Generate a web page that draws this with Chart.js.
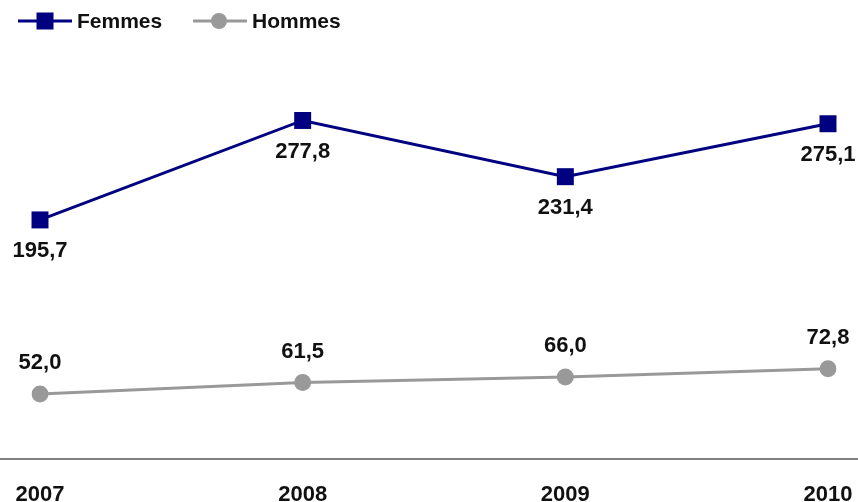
<!DOCTYPE html>
<html>
<head>
<meta charset="utf-8">
<script src="https://cdn.jsdelivr.net/npm/chart.js@4/dist/chart.umd.min.js"></script>
<style>
  html, body { margin: 0; padding: 0; background: #fff; }
  #wrap { width: 858px; height: 502px; position: relative; }
</style>
</head>
<body>
<div id="wrap"><canvas id="chart"></canvas></div>
<script>
// Data
const years = ['2007', '2008', '2009', '2010'];
const femmes = [195.7, 277.8, 231.4, 275.1];
const hommes = [52.0, 61.5, 66.0, 72.8];

const NAVY = '#000080';
const GREY = '#999999';
const FONT = '"Liberation Sans", Arial, sans-serif';

function fmt(v) {
  return v.toFixed(1).replace('.', ',');
}

// Value labels: Femmes below the points, Hommes above
const valueLabels = {
  id: 'valueLabels',
  afterDatasetsDraw(chart) {
    const ctx = chart.ctx;
    ctx.save();
    ctx.font = 'bold 22px ' + FONT;
    ctx.fillStyle = '#111';
    ctx.textAlign = 'center';
    ctx.textBaseline = 'middle';
    chart.data.datasets.forEach((ds, i) => {
      const meta = chart.getDatasetMeta(i);
      const dy = ds.label === 'Femmes' ? 31 : -31;
      meta.data.forEach((pt, j) => {
        ctx.fillText(fmt(ds.data[j]), pt.x, pt.y + dy);
      });
    });
    ctx.restore();
  }
};

// Axis line running across the whole width
const baseLine = {
  id: 'baseLine',
  beforeDatasetsDraw(chart) {
    const ctx = chart.ctx;
    const y = chart.chartArea.bottom + 2;
    ctx.save();
    ctx.strokeStyle = '#808080';
    ctx.lineWidth = 2;
    ctx.beginPath();
    ctx.moveTo(0, y);
    ctx.lineTo(chart.width, y);
    ctx.stroke();
    ctx.restore();
  }
};

// Legend with line + marker, Excel style
const lineLegend = {
  id: 'lineLegend',
  afterDraw(chart) {
    const ctx = chart.ctx;
    const y = 21;
    const items = [
      { x: 18, label: chart.data.datasets[0].label, color: NAVY, marker: 'rect' },
      { x: 193, label: chart.data.datasets[1].label, color: GREY, marker: 'circle' }
    ];
    ctx.save();
    items.forEach(it => {
      ctx.strokeStyle = it.color;
      ctx.lineWidth = 3;
      ctx.beginPath();
      ctx.moveTo(it.x, y);
      ctx.lineTo(it.x + 54, y);
      ctx.stroke();
      ctx.fillStyle = it.color;
      if (it.marker === 'rect') {
        ctx.fillRect(it.x + 27 - 8.5, y - 8.5, 17, 17);
      } else {
        ctx.beginPath();
        ctx.arc(it.x + 26, y, 8, 0, Math.PI * 2);
        ctx.fill();
      }
      ctx.fillStyle = '#111';
      ctx.font = 'bold 21px ' + FONT;
      ctx.textAlign = 'left';
      ctx.textBaseline = 'middle';
      ctx.fillText(it.label, it.x + 59, y + 1);
    });
    ctx.restore();
  }
};

const ctx = document.getElementById('chart').getContext('2d');
new Chart(ctx, {
  type: 'line',
  data: {
    labels: years,
    datasets: [
      {
        label: 'Femmes',
        data: femmes,
        borderColor: NAVY,
        backgroundColor: NAVY,
        borderWidth: 3,
        pointStyle: 'rect',
        pointRadius: 12,
        pointBorderWidth: 0,
        pointBackgroundColor: NAVY,
        tension: 0
      },
      {
        label: 'Hommes',
        data: hommes,
        borderColor: GREY,
        backgroundColor: GREY,
        borderWidth: 3,
        pointStyle: 'circle',
        pointRadius: 8.5,
        pointBorderWidth: 0,
        pointBackgroundColor: GREY,
        tension: 0
      }
    ]
  },
  options: {
    responsive: true,
    maintainAspectRatio: false,
    animation: false,
    layout: {
      padding: { top: 33, left: 0, right: 0, bottom: 0 }
    },
    plugins: {
      legend: { display: false },
      tooltip: { enabled: false }
    },
    scales: {
      x: {
        offset: false,
        grid: { display: false, drawTicks: false },
        border: { display: false },
        ticks: {
          color: '#111',
          padding: 25,
          maxRotation: 0,
          font: { family: FONT, size: 22, weight: 'bold' }
        },
        afterFit(scale) {
          scale.paddingLeft = 40;
          scale.paddingRight = 30;
          scale.height = 45;
        }
      },
      y: {
        display: false,
        min: 0,
        max: 350
      }
    }
  },
  plugins: [baseLine, valueLabels, lineLegend]
});
</script>
</body>
</html>
